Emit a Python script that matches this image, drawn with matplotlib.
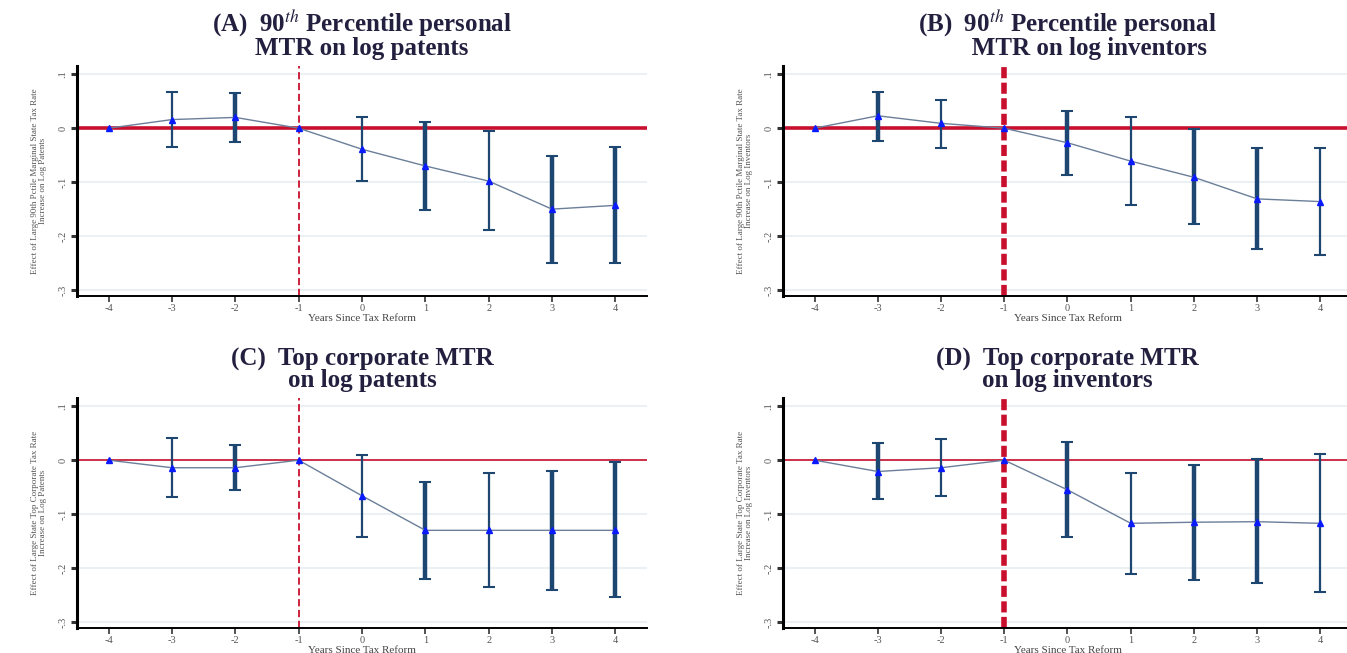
import matplotlib
matplotlib.use("Agg")
import matplotlib.pyplot as plt
import numpy as np

plt.rcParams['font.family'] = ['Liberation Serif', 'DejaVu Serif']
plt.rcParams['mathtext.fontset'] = 'stix'

years = [-4, -3, -2, -1, 0, 1, 2, 3, 4]

# panel A: 90th pctile personal MTR on log patents
coef_a = [0, 0.016, 0.020, 0, -0.039, -0.070, -0.098, -0.150, -0.143]
hi_a = [None, 0.067, 0.065, None, 0.020, 0.011, -0.006, -0.052, -0.035]
lo_a = [None, -0.035, -0.026, None, -0.098, -0.152, -0.189, -0.249, -0.249]
thick_a = [0, 0, 1, 0, 0, 1, 0, 1, 1]

# panel B: 90th pctile personal MTR on log inventors
coef_b = [0, 0.023, 0.009, 0, -0.027, -0.061, -0.091, -0.131, -0.136]
hi_b = [None, 0.068, 0.052, None, 0.031, 0.020, -0.002, -0.037, -0.037]
lo_b = [None, -0.023, -0.036, None, -0.086, -0.143, -0.177, -0.224, -0.235]
thick_b = [0, 1, 0, 0, 1, 0, 1, 1, 0]

# panel C: top corporate MTR on log patents
coef_c = [0, -0.014, -0.014, 0, -0.066, -0.130, -0.130, -0.130, -0.130]
hi_c = [None, 0.042, 0.028, None, 0.009, -0.040, -0.023, -0.020, -0.003]
lo_c = [None, -0.069, -0.055, None, -0.143, -0.220, -0.235, -0.240, -0.254]
thick_c = [0, 0, 1, 0, 0, 1, 0, 1, 1]

# panel D: top corporate MTR on log inventors
coef_d = [0, -0.021, -0.014, 0, -0.055, -0.117, -0.115, -0.114, -0.117]
hi_d = [None, 0.031, 0.039, None, 0.034, -0.023, -0.009, 0.002, 0.012]
lo_d = [None, -0.072, -0.066, None, -0.143, -0.211, -0.222, -0.228, -0.245]
thick_d = [0, 1, 0, 0, 1, 0, 1, 1, 0]

titles = [r"(A)  90$^{th}$ Percentile personal" + "\nMTR on log patents",
          r"(B)  90$^{th}$ Percentile personal" + "\n       MTR on log inventors",
          "(C)  Top corporate MTR\non log patents",
          "(D)  Top corporate MTR\non log inventors"]
ylabels = ["Effect of Large 90th Pctile Marginal State Tax Rate\nIncrease on Log Patents",
           "Effect of Large 90th Pctile Marginal State Tax Rate\nIncrease on Log Inventors",
           "Effect of Large State Top Corporate Tax Rate\nIncrease on Log Patents",
           "Effect of Large State Top Corporate Tax Rate\nIncrease on Log Inventors"]
yticks = [0.1, 0, -0.1, -0.2, -0.3]
yticklabels = [".1", "0", "-.1", "-.2", "-.3"]

panels = [(coef_a, hi_a, lo_a, thick_a), (coef_b, hi_b, lo_b, thick_b),
          (coef_c, hi_c, lo_c, thick_c), (coef_d, hi_d, lo_d, thick_d)]
positions = [[0.0572, 0.5467, 0.4231, 0.352], [0.5813, 0.5467, 0.4224, 0.352],
             [0.0572, 0.0383, 0.4231, 0.352], [0.5813, 0.0383, 0.4224, 0.352]]
zero_lw = [2.6, 2.6, 1.2, 1.2]
vline_lw = [1.3, 4.0, 1.3, 4.0]
vline_dash = [(4, 2), (2, 0.8), (4, 2), (2, 0.8)]

fig = plt.figure(figsize=(13.47, 6.53), dpi=100)
navy = '#1d4670'
red = '#c8102e'

for i, (coef, hi, lo, thick) in enumerate(panels):
    ax = fig.add_axes(positions[i])
    ax.set_xlim(-4.5, 4.5)
    ax.set_ylim(-0.311, 0.115)
    for t in yticks:
        ax.axhline(t, color='#e6eef1', lw=1.2, zorder=0)
    ax.axhline(0, color=red, lw=zero_lw[i], zorder=1)
    ax.axvline(-1, color=red, lw=vline_lw[i], dashes=vline_dash[i], zorder=1)
    for x, h, l, th in zip(years, hi, lo, thick):
        if h is None:
            continue
        ax.errorbar([x], [(h + l) / 2], yerr=[[(h - l) / 2]], fmt='none',
                    ecolor=navy, elinewidth=3.2 if th else 1.6,
                    capsize=4, capthick=1.5, zorder=2)
    ax.plot(years, coef, color='#6b7f99', lw=1.0, zorder=3)
    ax.plot(years, coef, ls='none', marker='^', color='#0a1aff', ms=5, zorder=4)

    ax.set_yticks(yticks)
    ax.set_yticklabels(yticklabels, rotation=90, va='center')
    ax.set_xticks(years)
    ax.set_xticklabels([str(y) for y in years])
    ax.tick_params(axis='both', labelsize=7.5, colors='#333333', length=4, width=1.2, pad=1.5)
    ax.tick_params(axis='y', width=2.2, length=4, pad=3)
    for lab in ax.get_yticklabels() + ax.get_xticklabels():
        lab.set_color('#555555')
    ax.spines['top'].set_visible(False)
    ax.spines['right'].set_visible(False)
    ax.spines['left'].set_linewidth(2.2)
    ax.spines['bottom'].set_linewidth(1.4)
    ax.set_xlabel("Years Since Tax Reform", fontsize=8, color='#444444', labelpad=1)
    ax.set_ylabel(ylabels[i], fontsize=6.5, color='#555555', labelpad=8, linespacing=1.0)
    ax.set_title(titles[i], fontsize=18, fontweight='bold', color='#231f3f',
                 pad=8, linespacing=0.9)

fig.savefig("out.png", dpi=100)
